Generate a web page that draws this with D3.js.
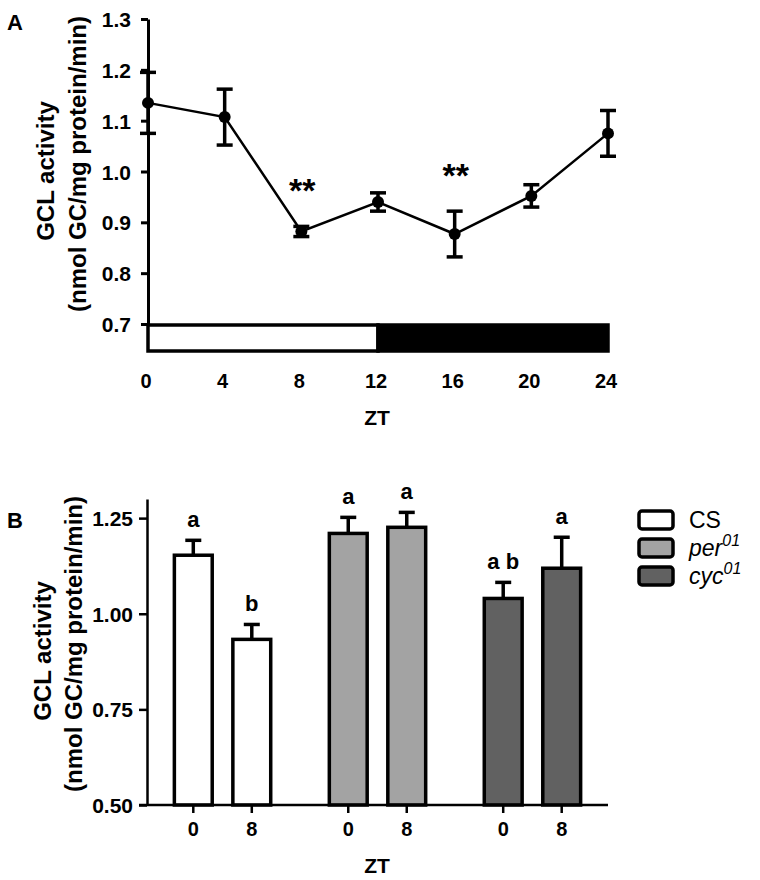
<!DOCTYPE html>
<html><head><meta charset="utf-8">
<script src="https://cdn.jsdelivr.net/npm/d3@7"></script>
<style>body{margin:0;background:#fff}svg{font-family:"Liberation Sans",Arial,sans-serif}</style>
</head><body><svg id="c" width="760" height="880"></svg>
<script>
// Panel A data
const ztA = [0, 4, 8, 12, 16, 20, 24];
const meanA = [1.135, 1.107, 0.882, 0.940, 0.877, 0.952, 1.075];
const semA = [0.06, 0.055, 0.01, 0.018, 0.045, 0.022, 0.045];
const sigA = ["", "", "**", "", "**", "", ""];
const yTicksA = [0.7, 0.8, 0.9, 1.0, 1.1, 1.2, 1.3];
const xTicksA = [0, 4, 8, 12, 16, 20, 24];
const lightDark = [{from: 0, to: 12, fill: "#fff"}, {from: 12, to: 24, fill: "#000"}];

// Panel B data
const genotypes = ["CS", "per01", "cyc01"];
const genoLabel = [{base: "CS", sup: ""}, {base: "per", sup: "01"}, {base: "cyc", sup: "01"}];
const genoColor = ["#ffffff", "#a3a3a3", "#616161"];
const ztB = ["0", "8"];
const meanB = [[1.153, 0.933], [1.210, 1.226], [1.040, 1.119]];
const errB = [[0.039, 0.039], [0.042, 0.039], [0.042, 0.081]];
const lettersB = [["a", "b"], ["a", "a"], ["a b", "a"]];
const yTicksB = [0.5, 0.75, 1.0, 1.25];

const svg = d3.select("#c");
const black = "#000";
const FT = 21; // tick font

// ---------- Panel A ----------
const xA = d3.scaleLinear().domain([0, 24]).range([148, 608]);
const yA = d3.scaleLinear().domain([0.7, 1.3]).range([324, 19]);
const gA = svg.append("g");

// light/dark bar
gA.selectAll("rect.ld").data(lightDark).enter().append("rect")
  .attr("x", d => xA(d.from)).attr("width", d => xA(d.to) - xA(d.from))
  .attr("y", yA(0.7) + 1).attr("height", 26)
  .attr("fill", d => d.fill).attr("stroke", black).attr("stroke-width", 3.5);

// y axis
const yAxisA = d3.axisLeft(yA).tickValues(yTicksA).tickFormat(d3.format(".1f")).tickSize(7).tickSizeOuter(0);
const ya = gA.append("g").attr("transform", `translate(${xA(0)},0)`).call(yAxisA);
ya.select(".domain").attr("stroke-width", 3);
ya.selectAll(".tick line").attr("stroke-width", 3);
ya.selectAll("text").attr("font-size", FT).attr("font-weight", "bold").attr("fill", black).attr("x", -17).attr("dy", "0.36em");

// x tick labels
gA.selectAll("text.xt").data(xTicksA).enter().append("text")
  .attr("x", d => xA(d) - 2).attr("y", 388).attr("text-anchor", "middle")
  .attr("font-size", 20).attr("font-weight", "bold").text(d => d);
gA.append("text").attr("x", 377).attr("y", 425).attr("text-anchor", "middle")
  .attr("font-size", 21).attr("font-weight", "bold").text("ZT");

// line
gA.append("path").datum(ztA.map((z, i) => [z, meanA[i]]))
  .attr("d", d3.line().x(d => xA(d[0])).y(d => yA(d[1])))
  .attr("fill", "none").attr("stroke", black).attr("stroke-width", 2.5);
// error bars
const eb = gA.selectAll("g.eb").data(ztA.map((z, i) => ({z, m: meanA[i], s: semA[i]}))).enter().append("g");
eb.append("line").attr("x1", d => xA(d.z)).attr("x2", d => xA(d.z))
  .attr("y1", d => yA(d.m + d.s)).attr("y2", d => yA(d.m - d.s)).attr("stroke", black).attr("stroke-width", 3.5);
[1, -1].forEach(sg => {
  eb.append("line").attr("x1", d => xA(d.z) - 8).attr("x2", d => xA(d.z) + 8)
    .attr("y1", d => yA(d.m + sg * d.s)).attr("y2", d => yA(d.m + sg * d.s)).attr("stroke", black).attr("stroke-width", 3.5);
});
eb.append("circle").attr("cx", d => xA(d.z)).attr("cy", d => yA(d.m)).attr("r", 6).attr("fill", black);

// significance
gA.selectAll("text.sig").data(ztA.map((z, i) => ({z, m: meanA[i], s: semA[i], t: sigA[i]})).filter(d => d.t)).enter()
  .append("text").attr("x", d => xA(d.z) + 1).attr("y", d => yA(d.m + d.s) - 24)
  .attr("text-anchor", "middle").attr("font-size", 34).attr("font-weight", "bold").text(d => d.t);

// y title A
gA.append("text").attr("transform", "translate(54,171) rotate(-90)")
  .attr("text-anchor", "middle").attr("font-size", 24).attr("font-weight", "bold").text("GCL  activity");
gA.append("text").attr("transform", "translate(86,164) rotate(-90)")
  .attr("text-anchor", "middle").attr("font-size", 24).attr("font-weight", "bold").text("(nmol  GC/mg protein/min)");

svg.append("text").attr("x", 7).attr("y", 30).attr("font-size", 22).attr("font-weight", "bold").text("A");

// ---------- Panel B ----------
const yB = d3.scaleLinear().domain([0.5, 1.3]).range([805, 499]);
const x0 = d3.scaleBand().domain(genotypes).range([147, 608]).paddingInner(0.245).paddingOuter(0.11);
const x1 = d3.scaleBand().domain(ztB).range([0, x0.bandwidth()]).paddingInner(0.293).paddingOuter(0.1465);
const gB = svg.append("g");

const barsData = [];
genotypes.forEach((g, gi) => ztB.forEach((z, zi) => barsData.push({g, gi, z, m: meanB[gi][zi], e: errB[gi][zi], l: lettersB[gi][zi]})));
const bx = d => x0(d.g) + x1(d.z);
const bc = d => bx(d) + x1.bandwidth() / 2;

// error bars (upper only)
gB.selectAll("line.eu").data(barsData).enter().append("line")
  .attr("x1", bc).attr("x2", bc)
  .attr("y1", d => yB(d.m)).attr("y2", d => yB(d.m + d.e)).attr("stroke", black).attr("stroke-width", 3.5);
gB.selectAll("line.ec").data(barsData).enter().append("line")
  .attr("x1", d => bc(d) - 8).attr("x2", d => bc(d) + 8)
  .attr("y1", d => yB(d.m + d.e)).attr("y2", d => yB(d.m + d.e)).attr("stroke", black).attr("stroke-width", 3.5);

gB.selectAll("rect.bar").data(barsData).enter().append("rect")
  .attr("x", d => bx(d) + 1.75).attr("width", x1.bandwidth() - 3.5)
  .attr("y", d => yB(d.m)).attr("height", d => yB(0.5) - yB(d.m))
  .attr("fill", d => genoColor[d.gi]).attr("stroke", black).attr("stroke-width", 3.5);

gB.selectAll("text.let").data(barsData).enter().append("text")
  .attr("x", bc).attr("y", d => yB(d.m + d.e) - 13)
  .attr("text-anchor", "middle").attr("font-size", 22).attr("font-weight", "bold").text(d => d.l);

// axes
const yAxisB = d3.axisLeft(yB).tickValues(yTicksB).tickFormat(d3.format(".2f")).tickSize(8).tickSizeOuter(0);
const yb = gB.append("g").attr("transform", "translate(147,0)").call(yAxisB);
yb.select(".domain").attr("stroke-width", 2.5);
yb.selectAll(".tick line").attr("stroke-width", 2.5);
yb.selectAll("text").attr("font-size", FT).attr("font-weight", "bold").attr("fill", black).attr("x", -14).attr("dy", "0.36em");

gB.append("line").attr("x1", 139).attr("x2", 608).attr("y1", yB(0.5)).attr("y2", yB(0.5)).attr("stroke", black).attr("stroke-width", 2.5);
gB.selectAll("line.xt").data(barsData).enter().append("line")
  .attr("x1", bc).attr("x2", bc)
  .attr("y1", yB(0.5)).attr("y2", yB(0.5) + 8).attr("stroke", black).attr("stroke-width", 2.5);
gB.selectAll("text.xl").data(barsData).enter().append("text")
  .attr("x", bc).attr("y", 836).attr("text-anchor", "middle")
  .attr("font-size", 20).attr("font-weight", "bold").text(d => d.z);
gB.append("text").attr("x", 377).attr("y", 873).attr("text-anchor", "middle")
  .attr("font-size", 21).attr("font-weight", "bold").text("ZT");

gB.append("text").attr("transform", "translate(51,651) rotate(-90)")
  .attr("text-anchor", "middle").attr("font-size", 24).attr("font-weight", "bold").text("GCL  activity");
gB.append("text").attr("transform", "translate(82,644) rotate(-90)")
  .attr("text-anchor", "middle").attr("font-size", 24).attr("font-weight", "bold").text("(nmol  GC/mg protein/min)");

svg.append("text").attr("x", 7).attr("y", 528).attr("font-size", 22).attr("font-weight", "bold").text("B");

// legend
const lg = gB.selectAll("g.lg").data(genoLabel).enter().append("g")
  .attr("transform", (d, i) => `translate(639,${511 + i * 28})`);
lg.append("rect").attr("width", 34).attr("height", 18).attr("rx", 3)
  .attr("fill", (d, i) => genoColor[i]).attr("stroke", black).attr("stroke-width", 3.5);
const lt = lg.append("text").attr("x", 50).attr("y", 17).attr("font-size", 23)
  .attr("font-style", (d, i) => i ? "italic" : "normal");
lt.append("tspan").text(d => d.base);
lt.append("tspan").attr("dy", -10).attr("font-size", 16).text(d => d.sup);
</script></body></html>
